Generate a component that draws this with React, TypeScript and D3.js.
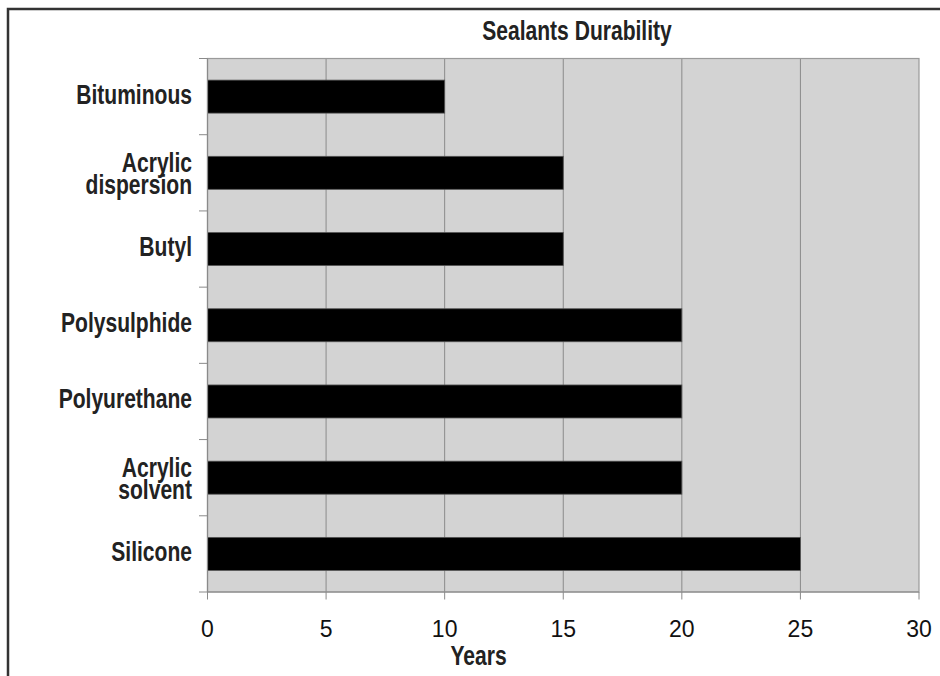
import React from "react";
import * as d3 from "d3";

const categories: string[] = [
  "Bituminous",
  "Acrylic\ndispersion",
  "Butyl",
  "Polysulphide",
  "Polyurethane",
  "Acrylic\nsolvent",
  "Silicone",
];
const years: number[] = [10, 15, 15, 20, 20, 20, 25];
const xTicks: number[] = [0, 5, 10, 15, 20, 25, 30];
const title = "Sealants Durability";
const xTitle = "Years";

const W = 940;
const H = 676;
const plot = { left: 207.5, right: 919, top: 58.5, bottom: 592 };
const boldFont = "'Liberation Sans', Arial, sans-serif";
const regular = "'Liberation Sans', Arial, sans-serif";
const SQ = 0.78; // horizontal squeeze to mimic a condensed bold face
const FS = 27;

function NarrowText(props: { x: number; y: number; anchor: string; size: number; children: React.ReactNode }) {
  return (
    <text
      transform={`translate(${props.x},${props.y}) scale(${SQ},1)`}
      textAnchor={props.anchor as any}
      fontFamily={boldFont}
      fontWeight="bold"
      fontSize={props.size}
      fill="#222"
    >
      {props.children}
    </text>
  );
}

export default function App() {
  const x = d3.scaleLinear().domain([0, 30]).range([plot.left, plot.right]);
  const p = 0.567;
  const y = d3
    .scaleBand<string>()
    .domain(categories)
    .range([plot.top, plot.bottom])
    .paddingInner(p)
    .paddingOuter(p / 2);
  const step = y.step();
  const boundaries = d3.range(categories.length + 1).map((i) => plot.top + i * step);

  return (
    <svg
      width={W}
      height={H}
      style={{ position: "absolute", left: 0, top: 0, display: "block", background: "#fff" }}
    >
      {/* outer frame */}
      <rect x={8} y={9} width={1000} height={760} fill="none" stroke="#333" strokeWidth={2.5} />
      {/* plot background */}
      <rect
        x={plot.left}
        y={plot.top}
        width={plot.right - plot.left}
        height={plot.bottom - plot.top}
        fill="#d3d3d3"
      />
      {/* gridlines */}
      {xTicks.slice(1, -1).map((t) => (
        <line key={"g" + t} x1={x(t)} x2={x(t)} y1={plot.top} y2={plot.bottom} stroke="#8a8a8a" strokeWidth={1} />
      ))}
      <rect
        x={plot.left}
        y={plot.top}
        width={plot.right - plot.left}
        height={plot.bottom - plot.top}
        fill="none"
        stroke="#9a9a9a"
        strokeWidth={1.2}
      />
      {/* bars */}
      {categories.map((c, i) => (
        <rect
          key={c}
          x={x(0)}
          y={y(c)!}
          width={x(years[i]) - x(0)}
          height={y.bandwidth()}
          fill="#000"
          stroke="#555"
          strokeWidth={0.8}
        />
      ))}
      {/* axis lines */}
      <line x1={plot.left} x2={plot.right} y1={plot.bottom} y2={plot.bottom} stroke="#8a8a8a" strokeWidth={1.2} />
      <line x1={plot.left} x2={plot.left} y1={plot.top} y2={plot.bottom} stroke="#8a8a8a" strokeWidth={1.2} />
      {/* x ticks */}
      {xTicks.map((t) => (
        <g key={"xt" + t}>
          <line x1={x(t)} x2={x(t)} y1={plot.bottom} y2={plot.bottom + 7.5} stroke="#8a8a8a" strokeWidth={1} />
          <text x={x(t)} y={637} textAnchor="middle" fontFamily={regular} fontSize={23} fill="#111">
            {t}
          </text>
        </g>
      ))}
      {/* y ticks */}
      {boundaries.map((b, i) => (
        <line key={"yt" + i} x1={plot.left - 8.5} x2={plot.left} y1={b} y2={b} stroke="#8a8a8a" strokeWidth={1} />
      ))}
      {/* category labels */}
      {categories.map((c) => {
        const cy = (y(c) as number) + y.bandwidth() / 2;
        const lines = c.split("\n");
        if (lines.length === 1) {
          return (
            <NarrowText key={"l" + c} x={192} y={cy + 7} anchor="end" size={FS}>
              {lines[0]}
            </NarrowText>
          );
        }
        return (
          <g key={"l" + c}>
            {lines.map((ln, k) => (
              <NarrowText key={k} x={192} y={cy - 1 + k * 22} anchor="end" size={FS}>
                {ln}
              </NarrowText>
            ))}
          </g>
        );
      })}
      {/* title */}
      <NarrowText x={577} y={39.5} anchor="middle" size={FS}>
        {title}
      </NarrowText>
      {/* x title */}
      <NarrowText x={478.5} y={665} anchor="middle" size={FS}>
        {xTitle}
      </NarrowText>
    </svg>
  );
}
